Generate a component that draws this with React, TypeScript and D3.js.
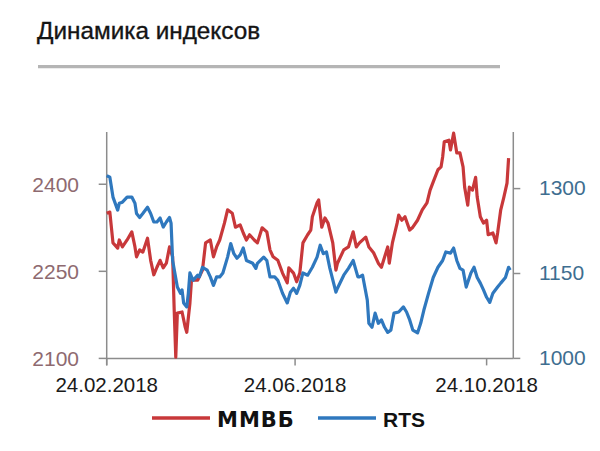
import React from "react";
import * as d3 from "d3";

const title = "Динамика индексов";
const seriesNames = ["ММВБ", "RTS"];
const xTickDates = ["2018-02-24", "2018-06-24", "2018-10-24"];
const leftTicks = [2100, 2250, 2400];
const rightTicks = [1000, 1150, 1300];
const xDomain = ["2018-02-24", "2018-11-10"];
const leftDomain = [2100, 2490];
const rightDomain = [1000, 1400];

const mmvbDates = [
  "2018-02-24","2018-02-26","2018-02-28","2018-03-03","2018-03-04","2018-03-06","2018-03-09","2018-03-12","2018-03-14","2018-03-15",
  "2018-03-17","2018-03-19","2018-03-22","2018-03-24","2018-03-26","2018-03-28","2018-03-30","2018-04-01","2018-04-03","2018-04-05",
  "2018-04-07","2018-04-08","2018-04-09","2018-04-10","2018-04-13","2018-04-15","2018-04-16","2018-04-18","2018-04-19","2018-04-23",
  "2018-04-26","2018-04-28","2018-05-01","2018-05-03","2018-05-05","2018-05-07","2018-05-10","2018-05-12","2018-05-15","2018-05-17",
  "2018-05-20","2018-05-22","2018-05-24","2018-05-26","2018-05-29","2018-05-31","2018-06-03","2018-06-06","2018-06-08","2018-06-10",
  "2018-06-13","2018-06-16","2018-06-19","2018-06-20","2018-06-23","2018-06-25","2018-06-27","2018-06-29","2018-07-02","2018-07-04",
  "2018-07-05","2018-07-08","2018-07-09","2018-07-11","2018-07-13","2018-07-15","2018-07-18","2018-07-20","2018-07-21","2018-07-25",
  "2018-07-28","2018-07-31","2018-08-02","2018-08-04","2018-08-08","2018-08-10","2018-08-13","2018-08-16","2018-08-18","2018-08-22",
  "2018-08-23","2018-08-25","2018-08-28","2018-08-29","2018-08-31","2018-09-02","2018-09-05","2018-09-07","2018-09-10","2018-09-13",
  "2018-09-16","2018-09-18","2018-09-20","2018-09-23","2018-09-25","2018-09-26","2018-09-27","2018-09-30","2018-10-01","2018-10-03",
  "2018-10-05","2018-10-07","2018-10-09","2018-10-10","2018-10-12","2018-10-13","2018-10-15","2018-10-17","2018-10-18","2018-10-20",
  "2018-10-22","2018-10-24","2018-10-25","2018-10-28","2018-10-30","2018-10-31","2018-11-02","2018-11-04","2018-11-06","2018-11-07",
];
const mmvbValues = [
  2350,2352,2299,2290,2304,2292,2304,2318,2292,2275,
  2287,2283,2307,2269,2244,2257,2269,2256,2264,2292,
  2275,2183,2102,2178,2180,2154,2145,2195,2235,2235,
  2252,2299,2304,2275,2292,2304,2333,2356,2350,2326,
  2330,2316,2304,2313,2304,2299,2325,2318,2287,2275,
  2269,2247,2230,2256,2247,2232,2247,2299,2313,2321,
  2344,2368,2373,2326,2342,2333,2299,2252,2264,2287,
  2292,2318,2292,2299,2309,2292,2282,2264,2257,2292,
  2264,2299,2333,2347,2338,2344,2321,2326,2338,2356,
  2368,2390,2404,2425,2430,2447,2473,2476,2459,2488,
  2454,2454,2430,2395,2364,2395,2390,2412,2378,2344,
  2333,2338,2313,2316,2299,2316,2356,2378,2402,2445,
];

const rtsDates = [
  "2018-02-24","2018-02-26","2018-02-28","2018-03-03","2018-03-04","2018-03-06","2018-03-09","2018-03-12","2018-03-14","2018-03-15",
  "2018-03-17","2018-03-19","2018-03-22","2018-03-24","2018-03-26","2018-03-28","2018-03-30","2018-04-01","2018-04-03","2018-04-05",
  "2018-04-06","2018-04-07","2018-04-10","2018-04-12","2018-04-13","2018-04-14","2018-04-16","2018-04-17","2018-04-18","2018-04-20",
  "2018-04-23","2018-04-24","2018-04-26","2018-04-29","2018-05-01","2018-05-03","2018-05-05","2018-05-07","2018-05-09","2018-05-12",
  "2018-05-14","2018-05-16","2018-05-18","2018-05-20","2018-05-22","2018-05-24","2018-05-28","2018-05-30","2018-05-31","2018-06-04",
  "2018-06-06","2018-06-08","2018-06-11","2018-06-13","2018-06-16","2018-06-19","2018-06-21","2018-06-23","2018-06-25","2018-06-27",
  "2018-06-29","2018-07-02","2018-07-05","2018-07-08","2018-07-10","2018-07-12","2018-07-14","2018-07-16","2018-07-20","2018-07-21",
  "2018-07-25","2018-07-28","2018-07-31","2018-08-03","2018-08-04","2018-08-06","2018-08-09","2018-08-10","2018-08-12","2018-08-14",
  "2018-08-16","2018-08-18","2018-08-20","2018-08-22","2018-08-24","2018-08-26","2018-08-29","2018-09-01","2018-09-03","2018-09-05",
  "2018-09-07","2018-09-10","2018-09-12","2018-09-14","2018-09-17","2018-09-20","2018-09-23","2018-09-26","2018-09-28","2018-10-01",
  "2018-10-03","2018-10-05","2018-10-07","2018-10-09","2018-10-11","2018-10-14","2018-10-16","2018-10-18","2018-10-20","2018-10-22",
  "2018-10-24","2018-10-26","2018-10-28","2018-10-31","2018-11-02","2018-11-05","2018-11-07","2018-11-08",
];
const rtsValues = [
  1323,1320,1285,1262,1274,1276,1285,1285,1274,1256,
  1249,1256,1267,1256,1241,1241,1248,1232,1241,1249,
  1239,1173,1126,1115,1121,1098,1091,1115,1151,1138,
  1147,1144,1161,1156,1144,1129,1144,1144,1151,1179,
  1203,1185,1177,1183,1195,1173,1168,1159,1168,1179,
  1173,1144,1144,1138,1115,1098,1117,1124,1115,1129,
  1151,1147,1161,1179,1200,1185,1188,1161,1117,1124,
  1147,1159,1173,1144,1144,1147,1103,1062,1055,1080,
  1062,1068,1055,1046,1050,1080,1082,1091,1082,1068,
  1050,1045,1062,1085,1115,1143,1161,1173,1188,1186,
  1195,1173,1159,1156,1126,1151,1161,1143,1133,1121,
  1108,1099,1115,1126,1133,1143,1161,1156,
];

const RED = "#c8383a";
const BLUE = "#2f78be";
const FONT = "'Liberation Sans', Arial, sans-serif";
const LEGEND_FONT = "'DejaVu Sans', 'Liberation Sans', sans-serif";

export default function App() {
  const parse = d3.timeParse("%Y-%m-%d");
  const fmt = d3.timeFormat("%d.%m.%Y");
  const left = 106.7, right = 513.3, top = 132, bottom = 358.4;

  const x = d3.scaleTime().domain(xDomain.map((d) => parse(d) as Date)).range([left, right]);
  const yL = d3.scaleLinear().domain(leftDomain).range([bottom, top]);
  const yR = d3.scaleLinear().domain(rightDomain).range([bottom, top]);

  const mmvb = mmvbDates.map((d, i) => ({ date: parse(d) as Date, v: mmvbValues[i] }));
  const rts = rtsDates.map((d, i) => ({ date: parse(d) as Date, v: rtsValues[i] }));

  const lineL = d3.line<{ date: Date; v: number }>().x((d) => x(d.date)).y((d) => yL(d.v));
  const lineR = d3.line<{ date: Date; v: number }>().x((d) => x(d.date)).y((d) => yR(d.v));

  const axisColor = "#8c8c8c";

  return (
    <svg width={600} height={451} style={{ position: "absolute", left: 0, top: 0, background: "#fff" }}>
      <rect x={0} y={0} width={600} height={451} fill="#fff" />
      <text x={37} y={39} fontFamily={FONT} fontSize={24.3} fill="#141414" stroke="#141414" strokeWidth={0.35}>{title}</text>
      <line x1={38} x2={500} y1={66.7} y2={66.7} stroke="#b5b5b5" strokeWidth={3.2} />

      {/* axes */}
      <line x1={left} x2={left} y1={top} y2={bottom + 7} stroke={axisColor} strokeWidth={1.5} />
      <line x1={right} x2={right} y1={top} y2={bottom} stroke={axisColor} strokeWidth={1.5} />
      <line x1={left} x2={right} y1={bottom} y2={bottom} stroke={axisColor} strokeWidth={1.5} />

      {leftTicks.map((t) => (
        <g key={"l" + t}>
          <line x1={left - 8} x2={left} y1={yL(t)} y2={yL(t)} stroke={axisColor} strokeWidth={1.5} />
          <text x={79} y={yL(t)} dy="0.36em" textAnchor="end" fontFamily={FONT} fontSize={21} fill="#8e6a70">{t}</text>
        </g>
      ))}
      {rightTicks.map((t) => (
        <g key={"r" + t}>
          <line x1={right} x2={right + 7} y1={yR(t)} y2={yR(t)} stroke={axisColor} strokeWidth={1.5} />
          <text x={539} y={yR(t)} dy="0.3em" textAnchor="start" fontFamily={FONT} fontSize={21} fill="#3e6e90">{t}</text>
        </g>
      ))}
      {xTickDates.map((d) => {
        const dt = parse(d) as Date;
        return (
          <g key={d}>
            <line x1={x(dt)} x2={x(dt)} y1={bottom} y2={bottom + 7} stroke={axisColor} strokeWidth={1.5} />
            <text x={x(dt)} y={392} textAnchor="middle" fontFamily={FONT} fontSize={20.5} fill="#1a1a1a">{fmt(dt)}</text>
          </g>
        );
      })}

      <path d={lineL(mmvb) || ""} fill="none" stroke={RED} strokeWidth={3.2} strokeLinejoin="round" />
      <path d={lineR(rts) || ""} fill="none" stroke={BLUE} strokeWidth={3.2} strokeLinejoin="round" />

      {/* legend */}
      <line x1={152} x2={210} y1={418} y2={418} stroke={RED} strokeWidth={3.5} />
      <text x={217} y={427} fontFamily={LEGEND_FONT} fontWeight="bold" fontSize={21} letterSpacing="1" fill="#111">{seriesNames[0]}</text>
      <line x1={318} x2={376} y1={418} y2={418} stroke={BLUE} strokeWidth={3.5} />
      <text x={383} y={427} fontFamily={FONT} fontWeight="bold" fontSize={21} fill="#111">{seriesNames[1]}</text>
    </svg>
  );
}
